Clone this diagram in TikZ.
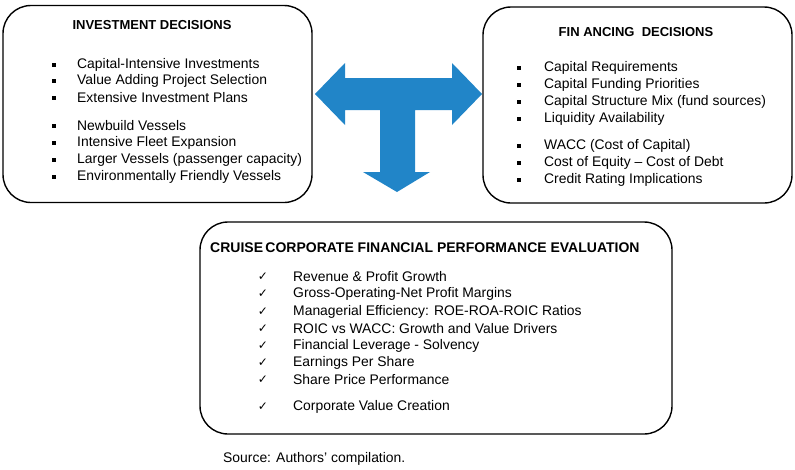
\documentclass[tikz,border=0pt]{standalone}
\usepackage{fontspec}
\setmainfont{Liberation Sans}
\newfontfamily\symfont{DejaVu Sans}
\definecolor{arrowblue}{RGB}{33,133,200}

\begin{document}
\begin{tikzpicture}[x=1pt,y=-1pt,
		box/.style={draw,line width=1.4pt,rounded corners=28pt,inner sep=0pt},
		title/.style={font=\fontsize{13}{15}\selectfont\bfseries},
		item/.style={anchor=west,inner sep=0pt,font=\fontsize{13.9}{16}\selectfont},
		sqbullet/.style={fill,rectangle,inner sep=0pt,minimum size=4.5pt},
		tick/.style={inner sep=0pt,font=\symfont\fontsize{12}{14}\selectfont}]
	\useasboundingbox (0,0) rectangle (795,469);
	\fill[white] (0,0) rectangle (795,469);

	% the three boxes
	\node[box,minimum width=309pt,minimum height=197pt] (inv) at (157.5,104) {};
	\node[box,minimum width=309pt,minimum height=196pt] (fin) at (637.5,105) {};
	\node[box,minimum width=472pt,minimum height=212pt] (perf) at (436,328) {};

	% T-shaped arrow between them
	\fill[arrowblue] (315,94) -- (345,63) -- (345,78) -- (452,78) -- (452,63) -- (482,94)
		-- (452,125) -- (452,110) -- (415,110) -- (415,172) -- (430,172) -- (397,192)
		-- (363,172) -- (380,172) -- (380,110) -- (345,110) -- (345,125) -- cycle;

	% investment decisions
	\node[title] (invtitle) at (152,25) {INVESTMENT DECISIONS};
	\foreach \y/\t [count=\i] in {65/Capital-Intensive Investments,81/Value Adding Project Selection,
			98/Extensive Investment Plans,126/Newbuild Vessels,143/Intensive Fleet Expansion,
			160/Larger Vessels (passenger capacity),177/Environmentally Friendly Vessels} {
		\node[sqbullet] (invb-\i) at (54,\y) {};
		\node[item] (inv-\i) at (77,\y) {\t};
	}

	% financing decisions
	\node[title] (fintitle) at (636,32) {FIN ANCING\ \ DECISIONS};
	\foreach \y/\t [count=\i] in {68/Capital Requirements,85/Capital Funding Priorities,
			102/Capital Structure Mix (fund sources),119/Liquidity Availability,
			146/WACC (Cost of Capital),163/Cost of Equity – Cost of Debt,180/Credit Rating Implications} {
		\node[sqbullet] (finb-\i) at (519,\y) {};
		\node[item] (fin-\i) at (544,\y) {\t};
	}

	% performance evaluation
	\node[title,anchor=west,inner sep=0pt,font=\fontsize{14}{16}\selectfont\bfseries] (perftitle) at (210,248) {CRUISE\,CORPORATE FINANCIAL PERFORMANCE EVALUATION};
	\foreach \y/\t [count=\i] in {277/Revenue \& Profit Growth,294/Gross-Operating-Net Profit Margins,
			312/Managerial Efficiency: ROE-ROA-ROIC Ratios,329/ROIC vs WACC: Growth and Value Drivers,
			346/Financial Leverage - Solvency,363/Earnings Per Share,380/Share Price Performance,
			407/Corporate Value Creation} {
		\node[tick] (perfc-\i) at (263,\y) {✓};
		\node[item] (perf-\i) at (293,\y) {\t};
	}

	\node[item] (source) at (223,459) {Source: Authors’ compilation.};
\end{tikzpicture}
\end{document}
